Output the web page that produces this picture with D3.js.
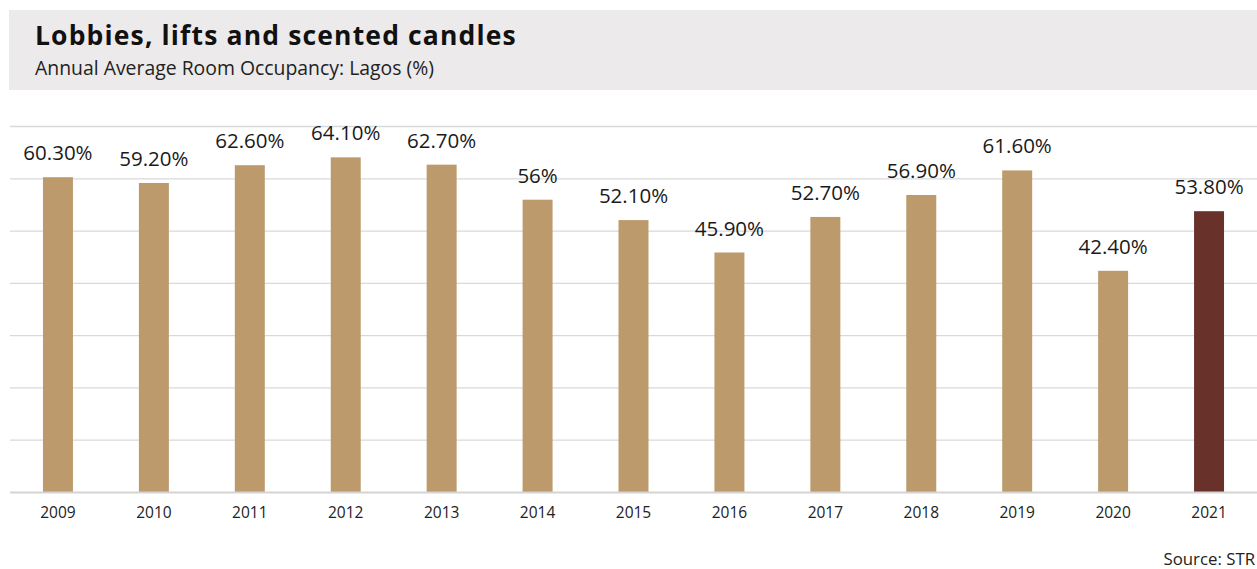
<!DOCTYPE html>
<html>
<head>
<meta charset="utf-8">
<script src="https://cdn.jsdelivr.net/npm/d3@7"></script>
<style>
  html, body { margin: 0; padding: 0; background: #fff; }
  svg { display: block; }
  text { font-family: "Open Sans", "Noto Sans", sans-serif; }
</style>
</head>
<body>
<svg id="chart" width="1257" height="569"></svg>
<script>
const years = ["2009","2010","2011","2012","2013","2014","2015","2016","2017","2018","2019","2020","2021"];
const occupancy = [60.3, 59.2, 62.6, 64.1, 62.7, 56, 52.1, 45.9, 52.7, 56.9, 61.6, 42.4, 53.8];
const valueLabels = ["60.30%","59.20%","62.60%","64.10%","62.70%","56%","52.10%","45.90%","52.70%","56.90%","61.60%","42.40%","53.80%"];
const gridTicks = [0, 10, 20, 30, 40, 50, 60, 70];
const highlightYear = "2021";

const W = 1257, H = 569;
const svg = d3.select("#chart");

// header
svg.append("rect").attr("x", 9).attr("y", 10).attr("width", W - 9).attr("height", 80).attr("fill", "#ECEAEA");
svg.append("text").attr("x", 35).attr("y", 44.5).attr("font-size", 26.5).attr("font-weight", 700)
  .attr("letter-spacing", 1.15)
  .attr("fill", "#111").text("Lobbies, lifts and scented candles");
svg.append("text").attr("x", 35).attr("y", 75).attr("font-size", 19.4)
  .attr("fill", "#222").text("Annual Average Room Occupancy: Lagos (%)");

const x = d3.scaleBand().domain(years).range([10, 1257]).paddingInner(0.6875).paddingOuter(0.34375);
const y = d3.scaleLinear().domain([0, 70]).range([492.5, 126.5]);

// gridlines
const grid = svg.append("g");
grid.selectAll("line").data(gridTicks.filter(d => d > 0)).join("line")
  .attr("x1", 10).attr("x2", W)
  .attr("y1", d => y(d)).attr("y2", d => y(d))
  .attr("stroke", "#d9d9d9").attr("stroke-width", 1.3);

// bars
svg.append("g").selectAll("rect").data(years).join("rect")
  .attr("x", d => x(d)).attr("width", x.bandwidth())
  .attr("y", (d, i) => y(occupancy[i]))
  .attr("height", (d, i) => y(0) - y(occupancy[i]))
  .attr("fill", d => d === highlightYear ? "#68322B" : "#BC9A6C");

// baseline axis
const xAxis = svg.append("g").attr("transform", `translate(0,${y(0)})`)
  .call(d3.axisBottom(x).tickSize(0).tickPadding(14));
xAxis.select(".domain").attr("d", `M10,0H${W}`).attr("stroke", "#d4d4d4").attr("stroke-width", 2);
xAxis.selectAll("text").attr("font-size", 15.5).attr("fill", "#222")
  .attr("font-family", "'Open Sans', 'Noto Sans', sans-serif");

// value labels
svg.append("g").selectAll("text").data(years).join("text")
  .attr("x", d => x(d) + x.bandwidth() / 2)
  .attr("y", (d, i) => y(occupancy[i]) - 17)
  .attr("text-anchor", "middle").attr("font-size", 20.5).attr("fill", "#1a1a1a")
  .text((d, i) => valueLabels[i]);

// source
svg.append("text").attr("x", 1255).attr("y", 565).attr("text-anchor", "end")
  .attr("font-size", 16.8).attr("fill", "#222").text("Source: STR");
</script>
</body>
</html>
